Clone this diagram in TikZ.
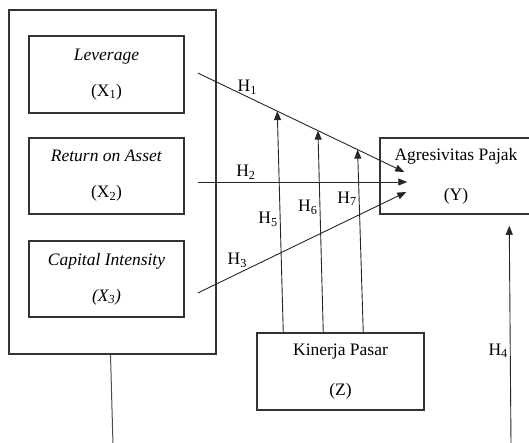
\documentclass[tikz,border=0pt]{standalone}
\usepackage{fontspec}
\setmainfont{Liberation Serif}
\usetikzlibrary{arrows.meta,calc}

\tikzset{
  ->/.style={draw=black!85,line width=0.9pt,-{Triangle[length=9pt,width=7pt]}},
  box/.style={draw=black!80,line width=1.5pt,align=center,inner sep=0pt},
  plain/.style={draw=black!70,line width=1pt},
  lbl/.style={inner sep=2pt}
}
\tikzstyle{every node}=[font=\fontsize{17.5}{20}\selectfont]

\begin{document}
\begin{tikzpicture}[x=1pt,y=-1pt]
    \useasboundingbox (0,0) rectangle (529,442);
    % independent variables
    \node[box,minimum width=207pt,minimum height=344pt] (outer) at (112.5,182) {};
    \node[box,minimum width=155pt,minimum height=77pt] (lev) at (106.5,74.5) {\textit{Leverage}\\[16pt](X\textsubscript{1})};
    \node[box,minimum width=155pt,minimum height=76pt] (roa) at (106.5,176) {\textit{Return on Asset}\\[16pt](X\textsubscript{2})};
    \node[box,minimum width=155pt,minimum height=76pt] (ci) at (106.5,279) {\textit{Capital Intensity}\\[16pt]\textit{(X\textsubscript{3})}};
    % dependent and moderating variables
    \node[box,minimum width=152pt,minimum height=76pt] (ybox) at (456,176) {Agresivitas Pajak\\[20pt](Y)};
    \node[box,minimum width=167pt,minimum height=77pt] (zbox) at (340.5,371.5) {Kinerja Pasar\\[20pt](Z)};
    \coordinate (h4bot) at (511,445);
    \coordinate (h4top) at ($(ybox.south west)+(130,11)$);
    \coordinate (outbot) at (113,445);

    \draw [->] ($(lev.east)+(13,-1.5)$) -- node[lbl,pos=0.24,above] {H\textsubscript{1}}
        coordinate[pos=0.385] (p5) coordinate[pos=0.582] (p6) coordinate[pos=0.774] (p7)
        ($(ybox.west)+(25,-4)$);
    \draw [->] ($(roa.east)+(13,6)$) -- node[lbl,pos=0.23,above] {H\textsubscript{2}} ($(ybox.west)+(28,6)$);
    \draw [->] ($(ci.east)+(13,14)$) -- node[lbl,pos=0.19,above,yshift=4pt] {H\textsubscript{3}} ($(ybox.west)+(27,16)$);
    \draw [->] ($(zbox.north west)+(27,0)$) -- node[lbl,pos=0.51,left] {H\textsubscript{5}} (p5);
    \draw [->] ($(zbox.north west)+(67,0)$) -- node[lbl,pos=0.62,left] {H\textsubscript{6}} (p6);
    \draw [->] ($(zbox.north west)+(107,0)$) -- node[lbl,pos=0.73,left] {H\textsubscript{7}} (p7);
    \draw [->] (h4bot) -- node[lbl,pos=0.43,left] {H\textsubscript{4}} (h4top);
    \draw [plain] ([xshift=-2pt]outer.south) -- (outbot);
\end{tikzpicture}
\end{document}
